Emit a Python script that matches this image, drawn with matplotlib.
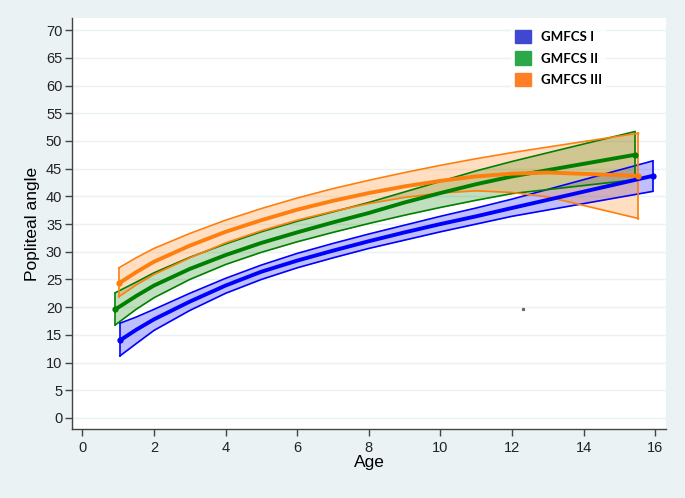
import matplotlib
matplotlib.use("Agg")
import matplotlib.pyplot as plt
from matplotlib.patches import Patch

plt.rcParams["font.family"] = ["Liberation Sans", "DejaVu Sans"]

# GMFCS I
age_1 = [1.05, 1.5, 2, 3, 4, 5, 6, 7, 8, 9, 10, 11, 12, 15.93]
mid_1 = [14.0, 15.9, 17.8, 21.0, 23.9, 26.4, 28.4, 30.2, 31.9, 33.5, 35.0, 36.4, 37.9, 43.7]
hi_1 = [17.1, 18.2, 19.6, 22.5, 25.2, 27.6, 29.7, 31.5, 33.2, 34.8, 36.4, 37.9, 39.5, 46.4]
lo_1 = [11.2, 13.4, 15.8, 19.4, 22.5, 25.0, 27.1, 28.9, 30.6, 32.1, 33.6, 35.0, 36.4, 40.9]

# GMFCS II
age_2 = [0.92, 1.5, 2, 3, 4, 5, 6, 7, 8, 9, 10, 11, 12, 15.43]
mid_2 = [19.6, 22.0, 23.9, 26.9, 29.4, 31.6, 33.5, 35.3, 37.0, 38.9, 40.6, 42.2, 43.6, 47.5]
hi_2 = [22.6, 24.5, 26.2, 29.0, 31.4, 33.6, 35.5, 37.2, 38.9, 40.8, 42.7, 44.6, 46.3, 51.7]
lo_2 = [16.8, 19.6, 21.7, 25.0, 27.7, 29.9, 31.8, 33.5, 35.1, 36.6, 38.0, 39.3, 40.5, 43.0]

# GMFCS III
age_3 = [1.02, 1.5, 2, 3, 4, 5, 6, 7, 8, 9, 10, 11, 12, 13, 15.53]
mid_3 = [24.3, 26.3, 28.2, 31.1, 33.6, 35.7, 37.6, 39.2, 40.6, 41.8, 42.8, 43.6, 44.1, 44.3, 43.7]
hi_3 = [27.1, 28.9, 30.6, 33.3, 35.7, 37.8, 39.7, 41.4, 42.9, 44.3, 45.6, 46.8, 47.9, 48.9, 51.4]
lo_3 = [21.9, 24.0, 25.9, 28.9, 31.6, 33.8, 35.7, 37.3, 38.7, 39.8, 40.6, 41.0, 40.7, 39.9, 36.0]

stray_x = [12.3]
stray_y = [19.7]

labels = ["GMFCS I", "GMFCS II", "GMFCS III"]
line_colors = ["#0000ff", "#008000", "#ff7f0e"]
legend_colors = ["#4048d2", "#2aa84a", "#ff7f27"]

fig = plt.figure(figsize=(6.85, 4.98), dpi=100)
fig.patch.set_facecolor("#eaf2f3")
ax = fig.add_axes([72/685, 1-429/498, (666-72)/685, (429-18)/498])
ax.set_facecolor("white")

groups = [(age_1, mid_1, hi_1, lo_1), (age_2, mid_2, hi_2, lo_2), (age_3, mid_3, hi_3, lo_3)]
for (a, m, h, l), c in zip(groups, line_colors):
    # shaded band with its outline
    ax.fill_between(a, l, h, color=c, alpha=0.25, lw=0)
    ax.plot(a, h, color=c, lw=1.2)
    ax.plot(a, l, color=c, lw=1.2)
    ax.plot([a[0], a[0]], [l[0], h[0]], color=c, lw=1.2)
    ax.plot([a[-1], a[-1]], [l[-1], h[-1]], color=c, lw=1.2)
for (a, m, h, l), c in zip(groups, line_colors):
    ax.plot(a, m, color=c, lw=2.8, marker="o", ms=3.5, markevery=[0, len(a)-1],
            solid_capstyle="round")

ax.plot(stray_x, stray_y, ls="none", marker="s", ms=1.3, color="#666666")

ax.set_xlim(-0.29, 16.3)
ax.set_ylim(-2.0, 72.2)
ax.set_xticks(range(0, 17, 2))
ax.set_yticks(range(0, 71, 5))
ax.yaxis.grid(True, color="#eaf2f3", lw=1.0)
ax.set_axisbelow(True)
for s in ["top", "right"]:
    ax.spines[s].set_visible(False)
for s in ["left", "bottom"]:
    ax.spines[s].set_color("#444444")
    ax.spines[s].set_linewidth(1.0)
ax.tick_params(axis="both", direction="out", length=5, width=1, color="#444444",
               labelsize=10.5, labelcolor="#222222")
ax.tick_params(axis="y", pad=2)
ax.set_xlabel("Age", fontsize=12.5, labelpad=0)
ax.set_ylabel("Popliteal angle", fontsize=12.5, labelpad=4)

handles = [Patch(facecolor=c, edgecolor=c) for c in legend_colors]
leg = ax.legend(handles, labels, loc="upper left", bbox_to_anchor=(511/685, 1-26/498),
                bbox_transform=fig.transFigure, borderaxespad=0, borderpad=0.3,
                handlelength=1.2, handleheight=1.2, handletextpad=0.8, labelspacing=0.6,
                frameon=True, fancybox=False,
                prop={"family": ["Lato", "DejaVu Sans"], "weight": "bold", "size": 9.5})
leg.get_frame().set_facecolor("white")
leg.get_frame().set_edgecolor("none")

fig.savefig("out.png", dpi=100, facecolor=fig.get_facecolor())
